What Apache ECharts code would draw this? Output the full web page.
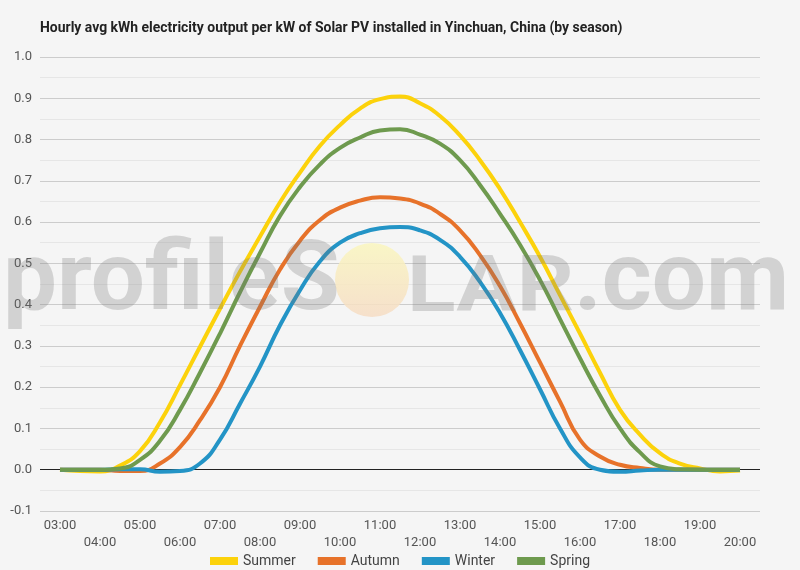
<!DOCTYPE html>
<html>
<head>
<meta charset="utf-8">
<script src="https://cdn.jsdelivr.net/npm/echarts@6/dist/echarts.min.js"></script>
<style>
  html, body { margin: 0; padding: 0; background: #f5f5f5; }
  #chart { width: 800px; height: 570px; }
</style>
</head>
<body>
<div id="chart"></div>
<script>
// time of day in hours, read every half hour off the picture
var hours = [3, 3.5, 4, 4.5, 5, 5.5, 6, 6.5, 7, 7.5, 8, 8.5, 9, 9.5, 10, 10.5, 11, 11.5,
  12, 12.5, 13, 13.5, 14, 14.5, 15, 15.5, 16, 16.5, 17, 17.5, 18, 18.5, 19, 19.5, 20];

// kWh per kW
var summer = [0, -0.003, -0.004, 0.01, 0.045, 0.115, 0.205, 0.298, 0.39, 0.48, 0.565, 0.648, 0.72, 0.785, 0.835, 0.875, 0.898, 0.904,
  0.888, 0.857, 0.81, 0.75, 0.68, 0.6, 0.516, 0.423, 0.33, 0.235, 0.145, 0.085, 0.04, 0.015, 0.003, -0.004, -0.002];
var autumn = [0, 0, 0, -0.003, -0.003, 0.015, 0.055, 0.12, 0.2, 0.3, 0.395, 0.485, 0.555, 0.605, 0.635, 0.652, 0.66, 0.657,
  0.645, 0.62, 0.58, 0.52, 0.445, 0.355, 0.26, 0.165, 0.073, 0.032, 0.012, 0.004, 0, 0, 0, 0, 0];
var winter = [0, 0, 0, 0.001, 0.001, -0.005, -0.003, 0.015, 0.073, 0.16, 0.25, 0.35, 0.435, 0.505, 0.55, 0.573, 0.585, 0.588,
  0.58, 0.557, 0.516, 0.455, 0.38, 0.29, 0.195, 0.1, 0.03, 0, -0.005, -0.002, 0, 0, 0, 0, 0];
var spring = [0, 0, 0, 0.003, 0.024, 0.07, 0.145, 0.235, 0.33, 0.43, 0.525, 0.615, 0.685, 0.74, 0.78, 0.805, 0.822, 0.825,
  0.812, 0.79, 0.75, 0.69, 0.62, 0.545, 0.46, 0.365, 0.27, 0.18, 0.1, 0.042, 0.008, 0.001, 0, 0, 0];

var seasonNames = ['Summer', 'Autumn', 'Winter', 'Spring'];
var seasonColors = ['#FCD20B', '#E7722A', '#2394C6', '#6E9A4E'];

var chart = echarts.init(document.getElementById('chart'));

// split line colours: index 1 is the 0.0 line (dark)
var gridColors = [];
for (var i = 0; i < 12; i++) {
  gridColors.push(i === 1 ? '#222222' : '#cccccc');
}

function pairs(values) {
  return hours.map(function (h, k) { return [h, values[k]]; });
}

function makeSeries(name, data, color) {
  return {
    name: name,
    type: 'line',
    smooth: true,
    showSymbol: false,
    symbol: 'none',
    data: pairs(data),
    lineStyle: { width: 4, color: color },
    itemStyle: { color: color },
    z: 3
  };
}

function hourLabel(v) {
  if (v % 1 !== 0) return '';
  var s = (v < 10 ? '0' : '') + v + ':00';
  return v % 2 === 0 ? '\n' + s : s;
}

var watermarkFill = 'rgba(120,120,120,0.27)';

var option = {
  backgroundColor: '#f5f5f5',
  legend: {
    data: seasonNames,
    top: 549,
    left: 'center',
    icon: 'rect',
    itemWidth: 28,
    itemHeight: 8,
    itemGap: 22,
    textStyle: { fontFamily: 'Roboto', fontSize: 14, color: '#444' }
  },
  grid: { left: 40, right: 40, top: 57, bottom: 59 },
  xAxis: {
    type: 'value',
    min: 2.5,
    max: 20.5,
    interval: 0.5,
    axisLine: { show: false },
    axisTick: { show: false },
    splitLine: { show: false },
    axisLabel: {
      margin: 6,
      fontFamily: 'Roboto',
      fontSize: 13,
      color: '#555',
      lineHeight: 17,
      showMinLabel: true,
      showMaxLabel: true,
      formatter: hourLabel
    }
  },
  yAxis: {
    type: 'value',
    min: -0.1,
    max: 1.0,
    interval: 0.1,
    axisLine: { show: false },
    axisTick: { show: false },
    axisLabel: {
      fontFamily: 'Roboto',
      fontSize: 13,
      color: '#555',
      margin: 8,
      formatter: function (v) { return v.toFixed(1); }
    },
    splitLine: { show: true, lineStyle: { color: gridColors, width: 1 } },
    minorTick: { show: false, splitNumber: 2 },
    minorSplitLine: { show: true, lineStyle: { color: '#e6e6e6', width: 1 } }
  },
  graphic: [
    {
      type: 'text',
      x: 40,
      y: 28,
      scaleX: 0.93,
      style: {
        text: 'Hourly avg kWh electricity output per kW of Solar PV installed in Yinchuan, China (by season)',
        font: 'bold 15px Roboto',
        fill: '#222',
        verticalAlign: 'middle'
      },
      z: 100
    },
    {
      type: 'circle',
      shape: { cx: 372, cy: 280, r: 37 },
      style: {
        fill: new echarts.graphic.LinearGradient(0, 0, 0, 1, [
          { offset: 0, color: 'rgba(250,246,190,0.85)' },
          { offset: 1, color: 'rgba(246,220,196,0.85)' }
        ])
      },
      z: 1,
      silent: true
    },
    {
      type: 'text',
      x: 3,
      y: 285,
      style: { text: 'profileS', font: 'bold 96px Roboto', fill: watermarkFill, verticalAlign: 'middle' },
      z: 100,
      silent: true
    },
    {
      type: 'text',
      x: 407,
      y: 291,
      scaleX: 1.15,
      style: { text: 'LAR', font: 'bold 78px Roboto', fill: watermarkFill, verticalAlign: 'middle' },
      z: 100,
      silent: true
    },
    {
      type: 'text',
      x: 574,
      y: 285,
      style: { text: '.com', font: 'bold 96px Roboto', fill: watermarkFill, verticalAlign: 'middle' },
      z: 100,
      silent: true
    }
  ],
  series: [
    makeSeries(seasonNames[0], summer, seasonColors[0]),
    makeSeries(seasonNames[1], autumn, seasonColors[1]),
    makeSeries(seasonNames[2], winter, seasonColors[2]),
    makeSeries(seasonNames[3], spring, seasonColors[3])
  ]
};

chart.setOption(option);
</script>
</body>
</html>
